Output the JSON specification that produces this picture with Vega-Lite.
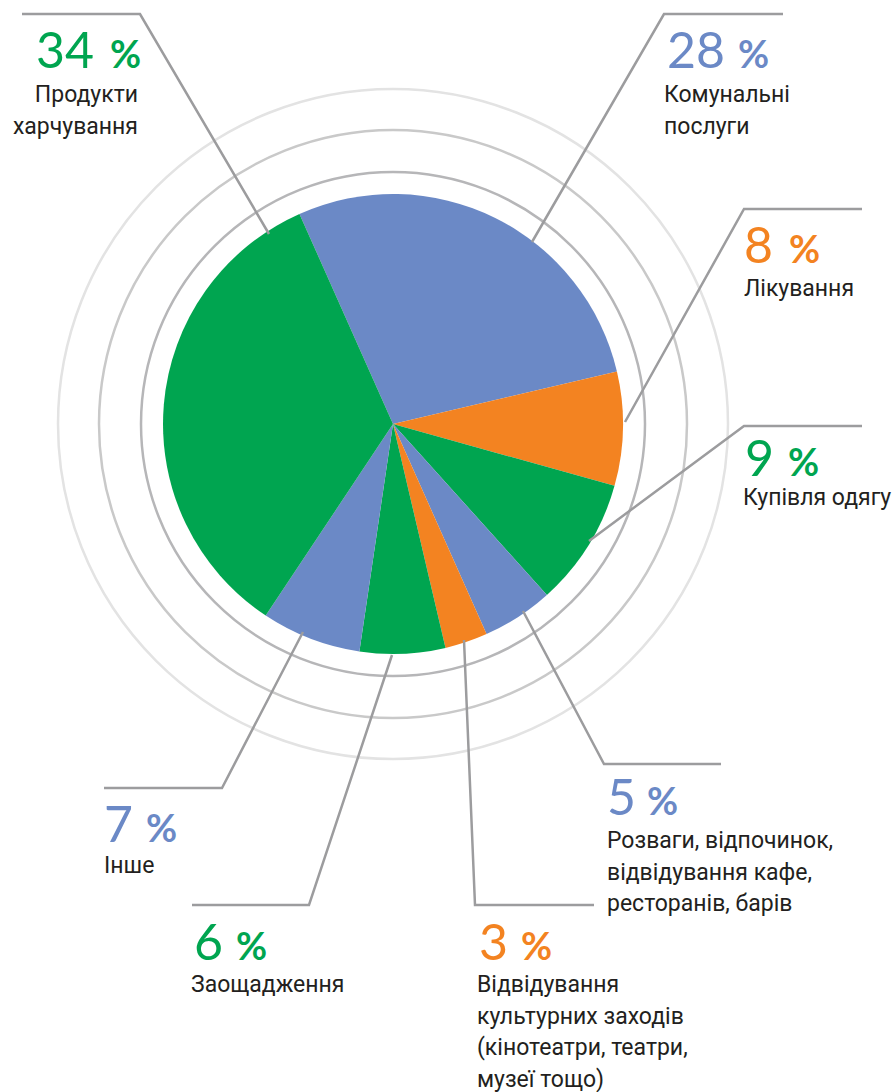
{
  "$schema": "https://vega.github.io/schema/vega-lite/v6.json",
  "width": 896,
  "height": 1092,
  "autosize": {"type": "fit", "contains": "padding"},
  "padding": 0,
  "background": "white",
  "config": {"view": {"stroke": null}},
  "datasets": {
    "rings": [{"ring": "inner"}, {"ring": "middle"}, {"ring": "outer"}],
    "slices": [
      {"idx": 1, "cat": "utilities", "value": 28},
      {"idx": 2, "cat": "medical", "value": 8},
      {"idx": 3, "cat": "clothes", "value": 9},
      {"idx": 4, "cat": "fun", "value": 5},
      {"idx": 5, "cat": "culture", "value": 3},
      {"idx": 6, "cat": "savings", "value": 6},
      {"idx": 7, "cat": "other", "value": 7},
      {"idx": 8, "cat": "food", "value": 34}
    ],
    "lines": [
      {"id": "food", "p": 0, "x": 22, "y": 14}, {"id": "food", "p": 1, "x": 140, "y": 14}, {"id": "food", "p": 2, "x": 269, "y": 234},
      {"id": "utilities", "p": 0, "x": 783, "y": 14}, {"id": "utilities", "p": 1, "x": 664, "y": 14}, {"id": "utilities", "p": 2, "x": 532, "y": 242},
      {"id": "medical", "p": 0, "x": 862, "y": 209}, {"id": "medical", "p": 1, "x": 744, "y": 209}, {"id": "medical", "p": 2, "x": 625, "y": 422},
      {"id": "clothes", "p": 0, "x": 862, "y": 426}, {"id": "clothes", "p": 1, "x": 744, "y": 426}, {"id": "clothes", "p": 2, "x": 589, "y": 541},
      {"id": "fun", "p": 0, "x": 721, "y": 764}, {"id": "fun", "p": 1, "x": 604, "y": 764}, {"id": "fun", "p": 2, "x": 523, "y": 611},
      {"id": "culture", "p": 0, "x": 594, "y": 905}, {"id": "culture", "p": 1, "x": 475, "y": 905}, {"id": "culture", "p": 2, "x": 464, "y": 640},
      {"id": "savings", "p": 0, "x": 192, "y": 905}, {"id": "savings", "p": 1, "x": 309, "y": 905}, {"id": "savings", "p": 2, "x": 392, "y": 655},
      {"id": "other", "p": 0, "x": 104, "y": 788}, {"id": "other", "p": 1, "x": 222, "y": 788}, {"id": "other", "p": 2, "x": 303, "y": 632}
    ],
    "labels": [
      {"cat": "food", "num": "34", "nx": 36, "ny": 68, "px": 110, "tx": 138, "ty": 102, "text": "Продукти\nхарчування"},
      {"cat": "utilities", "num": "28", "nx": 667, "ny": 68, "px": 738, "tx": 664, "ty": 102, "text": "Комунальні\nпослуги"},
      {"cat": "medical", "num": "8", "nx": 744, "ny": 263, "px": 789, "tx": 744, "ty": 296, "text": "Лікування"},
      {"cat": "clothes", "num": "9", "nx": 745, "ny": 476, "px": 788, "tx": 743, "ty": 505, "text": "Купівля одягу"},
      {"cat": "fun", "num": "5", "nx": 607, "ny": 815, "px": 647, "tx": 607, "ty": 848, "text": "Розваги, відпочинок,\nвідвідування кафе,\nресторанів, барів"},
      {"cat": "culture", "num": "3", "nx": 479, "ny": 960, "px": 521, "tx": 477, "ty": 992, "text": "Відвідування\nкультурних заходів\n(кінотеатри, театри,\nмузеї тощо)"},
      {"cat": "savings", "num": "6", "nx": 194, "ny": 960, "px": 236, "tx": 191, "ty": 992, "text": "Заощадження"},
      {"cat": "other", "num": "7", "nx": 104, "ny": 842, "px": 146, "tx": 104, "ty": 873, "text": "Інше"}
    ]
  },
  "layer": [
    {
      "data": {"name": "rings"},
      "transform": [{"filter": "datum.ring === 'outer'"}],
      "mark": {"type": "arc", "radius": 335, "theta": 0, "theta2": 6.2832, "fill": "transparent", "stroke": "#e3e3e3", "strokeWidth": 2.5},
      "encoding": {
        "x": {"datum": 393, "type": "quantitative", "scale": {"domain": [0, 896], "nice": false, "zero": false}, "axis": null},
        "y": {"datum": 424, "type": "quantitative", "scale": {"domain": [0, 1092], "nice": false, "zero": false, "reverse": true}, "axis": null}
      }
    },
    {
      "data": {"name": "rings"},
      "transform": [{"filter": "datum.ring === 'middle'"}],
      "mark": {"type": "arc", "radius": 294, "theta": 0, "theta2": 6.2832, "fill": "transparent", "stroke": "#c9c9c9", "strokeWidth": 2.5},
      "encoding": {
        "x": {"datum": 393, "type": "quantitative"},
        "y": {"datum": 424, "type": "quantitative"}
      }
    },
    {
      "data": {"name": "rings"},
      "transform": [{"filter": "datum.ring === 'inner'"}],
      "mark": {"type": "arc", "radius": 252, "theta": 0, "theta2": 6.2832, "fill": "transparent", "stroke": "#b6b6b8", "strokeWidth": 2.5},
      "encoding": {
        "x": {"datum": 393, "type": "quantitative"},
        "y": {"datum": 424, "type": "quantitative"}
      }
    },
    {
      "data": {"name": "slices"},
      "mark": {"type": "arc", "radius": 230},
      "encoding": {
        "x": {"datum": 393, "type": "quantitative"},
        "y": {"datum": 424, "type": "quantitative"},
        "theta": {"field": "value", "type": "quantitative", "stack": true, "scale": {"range": [-0.4189, 5.8643]}},
        "order": {"field": "idx", "type": "quantitative"},
        "color": {
          "field": "cat", "type": "nominal", "legend": null,
          "scale": {
            "domain": ["utilities", "medical", "clothes", "fun", "culture", "savings", "other", "food"],
            "range": ["#6b89c6", "#f38321", "#00a550", "#6b89c6", "#f38321", "#00a550", "#6b89c6", "#00a550"]
          }
        }
      }
    },
    {
      "data": {"name": "lines"},
      "mark": {"type": "line", "color": "#9c9c9e", "strokeWidth": 2.5},
      "encoding": {
        "x": {"field": "x", "type": "quantitative"},
        "y": {"field": "y", "type": "quantitative"},
        "detail": {"field": "id", "type": "nominal"},
        "order": {"field": "p", "type": "quantitative"}
      }
    },
    {
      "data": {"name": "labels"},
      "mark": {"type": "text", "font": "Lato", "fontWeight": "normal", "fontSize": 50, "align": "left", "baseline": "alphabetic"},
      "encoding": {
        "x": {"field": "nx", "type": "quantitative"},
        "y": {"field": "ny", "type": "quantitative"},
        "text": {"field": "num", "type": "nominal"},
        "color": {"field": "cat", "type": "nominal", "legend": null}
      }
    },
    {
      "data": {"name": "labels"},
      "mark": {"type": "text", "font": "Lato", "fontWeight": "bold", "fontSize": 38, "align": "left", "baseline": "alphabetic", "text": "%"},
      "encoding": {
        "x": {"field": "px", "type": "quantitative"},
        "y": {"field": "ny", "type": "quantitative"},
        "color": {"field": "cat", "type": "nominal", "legend": null}
      }
    },
    {
      "data": {"name": "labels"},
      "transform": [{"filter": "datum.cat !== 'food'"}],
      "mark": {"type": "text", "font": "Roboto", "fontSize": 23, "align": "left", "baseline": "alphabetic", "lineBreak": "\n", "lineHeight": 31.5, "color": "#231f20"},
      "encoding": {
        "x": {"field": "tx", "type": "quantitative"},
        "y": {"field": "ty", "type": "quantitative"},
        "text": {"field": "text", "type": "nominal"}
      }
    },
    {
      "data": {"name": "labels"},
      "transform": [{"filter": "datum.cat === 'food'"}],
      "mark": {"type": "text", "font": "Roboto", "fontSize": 23, "align": "right", "baseline": "alphabetic", "lineBreak": "\n", "lineHeight": 31.5, "color": "#231f20"},
      "encoding": {
        "x": {"field": "tx", "type": "quantitative"},
        "y": {"field": "ty", "type": "quantitative"},
        "text": {"field": "text", "type": "nominal"}
      }
    }
  ]
}
